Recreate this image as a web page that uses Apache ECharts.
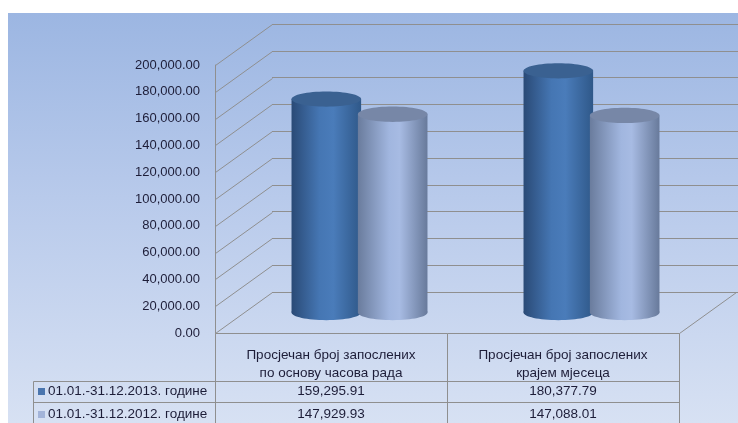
<!DOCTYPE html>
<html>
<head>
<meta charset="utf-8">
<script src="https://cdn.jsdelivr.net/npm/echarts@6/dist/echarts.min.js"></script>
<style>
  html, body { margin: 0; padding: 0; background: #fff; }
  #wrap { position: relative; width: 738px; height: 423px; overflow: hidden; }
  #bg { position: absolute; left: 8px; top: 13px; right: 0; bottom: 0;
        background: linear-gradient(to bottom, #9cb6e2 0%, #b8caeb 45%, #d7e1f3 100%); }
  #chart { position: absolute; left: 0; top: 0; width: 738px; height: 423px; }
</style>
</head>
<body>
<div id="wrap">
  <div id="bg"></div>
  <div id="chart"></div>
</div>
<script>
  'use strict'

  // data
  var categories = ['Просјечан број запослених\nпо основу часова рада', 'Просјечан број запослених\nкрајем мјесеца'];
  var seriesNames = ['01.01.-31.12.2013. године', '01.01.-31.12.2012. године'];
  var values2013 = [159295.91, 180377.79];
  var values2012 = [147929.93, 147088.01];
  var yTicks = [0, 20000, 40000, 60000, 80000, 100000, 120000, 140000, 160000, 180000, 200000];
  var yMin = 0, yMax = 200000, yStep = 20000;

  var FONT = 'Liberation Sans';
  var TXT = '#1d1d38';
  var LINE = '#8f8f8f';
  var DX = 57, DY = -41; // depth of the 3d box
  var TFONT = '13.5px "' + FONT + '"';

  var palettes = [
    { stops: [[0, '#2a4a76'], [0.4, '#4576b3'], [0.6, '#4a7cba'], [1, '#2f5889']], top: '#3a6191', legend: '#4a75ae' },
    { stops: [[0, '#6a7c9d'], [0.45, '#a1b6df'], [0.6, '#a7bbe3'], [1, '#687a9b']], top: '#7787a7', legend: '#a3b4d9' }
  ];

  function fmt(v) {
    return v.toLocaleString('en-US', { minimumFractionDigits: 2, maximumFractionDigits: 2 });
  }
  function px(v) { return Math.round(v) + 0.5; }
  function ln(x1, y1, x2, y2) {
    return { type: 'line', shape: { x1: x1, y1: y1, x2: x2, y2: y2 }, style: { stroke: LINE, lineWidth: 1 } };
  }
  function grad(stops) {
    return { type: 'linear', x: 0, y: 0, x2: 1, y2: 0,
      colorStops: stops.map(function (s) { return { offset: s[0], color: s[1] }; }) };
  }

  // cylinders
  function cylinder(s) {
    return function (params, api) {
      var cat = api.value(0), val = api.value(1);
      var base = api.coord([cat, 0]);
      var top = api.coord([cat, val]);
      var band = api.size([1, 0])[0];
      var w = band * 0.3;
      var cx = base[0] + (s === 0 ? -1 : 1) * band * 0.143;
      var rx = w / 2, ry = w * 0.11;
      var pal = palettes[s];
      return {
        type: 'group',
        children: [
          { type: 'ellipse', shape: { cx: cx, cy: base[1], rx: rx, ry: ry }, style: { fill: grad(pal.stops) } },
          { type: 'rect', shape: { x: cx - rx, y: top[1], width: w, height: base[1] - top[1] }, style: { fill: grad(pal.stops) } },
          { type: 'ellipse', shape: { cx: cx, cy: top[1], rx: rx, ry: ry },
            style: { fill: pal.top } }
        ]
      };
    };
  }

  // left wall diagonals
  function walls(params, api) {
    var v = api.value(0);
    var p = api.coord([0, v]);
    var x0 = px(params.coordSys.x), y = px(p[1]);
    return ln(x0, y, x0 + DX, y + DY);
  }

  // floor edges + data table
  function table(params, api) {
    var i = api.value(0);
    var c = api.coord([i, yMin]);
    var band = api.size([1, 0])[0];
    var left = px(c[0] - band / 2), right = px(c[0] + band / 2);
    var y0 = px(c[1]);
    var yH = y0 + 48, yR = y0 + 69, yB = 430;
    var ch = [];
    ch.push(ln(left, y0, right, y0));
    ch.push(ln(right, y0, right, yB));
    ch.push(ln(left, yH, right, yH));
    ch.push(ln(left, yR, right, yR));
    ch.push({ type: 'text', style: { text: categories[i], x: c[0], y: y0 + 31, align: 'center', verticalAlign: 'middle',
      fill: TXT, font: TFONT, lineHeight: 18 } });
    ch.push({ type: 'text', style: { text: fmt(values2013[i]), x: c[0], y: y0 + 58, align: 'center', verticalAlign: 'middle',
      fill: TXT, font: TFONT } });
    ch.push({ type: 'text', style: { text: fmt(values2012[i]), x: c[0], y: y0 + 81, align: 'center', verticalAlign: 'middle',
      fill: TXT, font: TFONT } });
    if (i === 0) {
      var lx = 33.5;
      ch.push(ln(left, y0, left, yB));
      ch.push(ln(lx, yH, left, yH));
      ch.push(ln(lx, yR, left, yR));
      ch.push(ln(lx, yH, lx, yB));
      seriesNames.forEach(function (name, k) {
        var cy = k === 0 ? y0 + 58 : y0 + 81;
        ch.push({ type: 'rect', shape: { x: 38, y: cy - 3.5, width: 7, height: 7 }, style: { fill: palettes[k].legend } });
        ch.push({ type: 'text', style: { text: name, x: 48, y: cy, align: 'left', verticalAlign: 'middle',
          fill: TXT, font: TFONT } });
      });
    }
    if (i === categories.length - 1) {
      ch.push(ln(right, y0, right + DX, y0 + DY));
    }
    return { type: 'group', children: ch };
  }

  var chart = echarts.init(document.getElementById('chart'));

  var option = {
    animation: false,
    grid: [
      { left: 215, top: 65, width: 464, height: 268 },   // front plane
      { left: 272, top: 24, width: 466, height: 268 },   // back wall
      { left: 243.5, top: 44.5, width: 464, height: 268 } // middle (bars)
    ],
    xAxis: [
      { gridIndex: 0, type: 'category', data: categories, show: false },
      { gridIndex: 1, type: 'category', data: categories, show: false },
      { gridIndex: 2, type: 'category', data: categories, show: false }
    ],
    yAxis: [
      { gridIndex: 0, type: 'value', min: yMin, max: yMax, interval: yStep,
        axisLine: { show: true, lineStyle: { color: LINE } },
        axisTick: { show: false },
        splitLine: { show: false },
        axisLabel: { margin: 15, color: TXT, fontFamily: FONT, fontSize: 13, formatter: fmt } },
      { gridIndex: 1, type: 'value', min: yMin, max: yMax, interval: yStep,
        axisLine: { show: false }, axisTick: { show: false }, axisLabel: { show: false },
        splitLine: { show: true, lineStyle: { color: LINE, width: 1 } } },
      { gridIndex: 2, type: 'value', min: yMin, max: yMax, interval: yStep, show: false }
    ],
    series: [
      { type: 'custom', xAxisIndex: 0, yAxisIndex: 0, data: yTicks.map(function (v) { return [v]; }),
        renderItem: walls, clip: false, silent: true, z: 1 },
      { type: 'custom', xAxisIndex: 0, yAxisIndex: 0, data: categories.map(function (c, i) { return [i]; }),
        renderItem: table, clip: false, silent: true, z: 1 },
      { type: 'custom', name: seriesNames[0], xAxisIndex: 2, yAxisIndex: 2,
        data: values2013.map(function (v, i) { return [i, v]; }), renderItem: cylinder(0), clip: false, z: 3 },
      { type: 'custom', name: seriesNames[1], xAxisIndex: 2, yAxisIndex: 2,
        data: values2012.map(function (v, i) { return [i, v]; }), renderItem: cylinder(1), clip: false, z: 4 }
    ]
  };

  chart.setOption(option);
  window.addEventListener('resize', function () {
    chart.resize();
  })
</script>
</body>
</html>
